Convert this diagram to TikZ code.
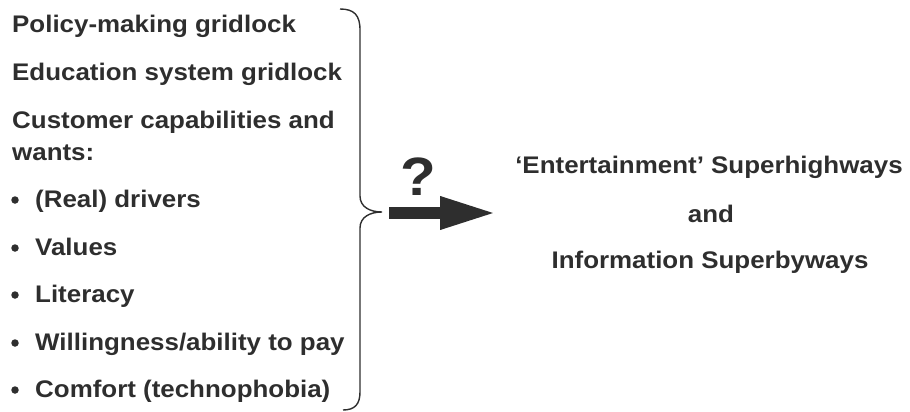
\documentclass[tikz,border=0pt]{standalone}
\usepackage{fontspec}
\usetikzlibrary{arrows.meta}
\newfontfamily\lfont{Liberation Sans}[FakeStretch=1.08]
\definecolor{ink}{HTML}{2E2E2E}
\tikzset{
  txt/.style={anchor=base west, inner sep=0pt, text=ink, font=\lfont\bfseries\fontsize{24}{28}\selectfont},
  rtxt/.style={anchor=base, inner sep=0pt, text=ink, font=\lfont\bfseries\fontsize{24}{28}\selectfont},
  bul/.style={circle, fill=ink, inner sep=0pt, minimum size=7.5pt},
  bracel/.style={draw=ink, line width=1.4pt},
  bigarrow/.style={draw=ink, line width=12pt, -{Triangle[length=57pt,width=30pt]}},
}
\begin{document}
\begin{tikzpicture}[x=1pt,y=-1pt]
\useasboundingbox (0,0) rectangle (910,412);
\node[txt] (l1) at (12,33) {Policy-making gridlock};
\node[txt] (l2) at (12,81) {Education system gridlock};
\node[txt] (l3) at (12,128) {Customer capabilities and};
\node[txt] (l4) at (12,160) {wants:};
\node[txt] (b1) at (35,207) {(Real) drivers};
\node[txt] (b2) at (35,255) {Values};
\node[txt] (b3) at (35,302) {Literacy};
\node[txt] (b4) at (35,350) {Willingness/ability to pay};
\node[txt] (b5) at (35,397) {Comfort (technophobia)};
\foreach \y/\n in {207/d1,255/d2,302/d3,350/d4,397/d5}
  \node[bul] (\n) at (15,\y-7) {};
% brace
\draw[bracel] (340,9) .. controls (354,9) and (360,15) .. (360,30) -- (360,196)
  .. controls (360,207) and (370,212) .. (382,212)
  .. controls (370,212) and (360,217) .. (360,228) -- (360,392)
  .. controls (360,404) and (355,410) .. (343,410);
\coordinate (tip) at (382,212);
\coordinate (as) at (389,213);
\coordinate (ae) at (497,213);
\draw[bigarrow] (as) -- (ae);
\node[inner sep=0pt, text=ink, font=\lfont\bfseries\fontsize{54}{60}\selectfont, anchor=base] (q) at (418,195) {?};
\node[rtxt] (r1) at (709,173) {‘Entertainment’ Superhighways};
\node[rtxt] (r2) at (711,222) {and};
\node[rtxt] (r3) at (710,268) {Information Superbyways};
\end{tikzpicture}
\end{document}
